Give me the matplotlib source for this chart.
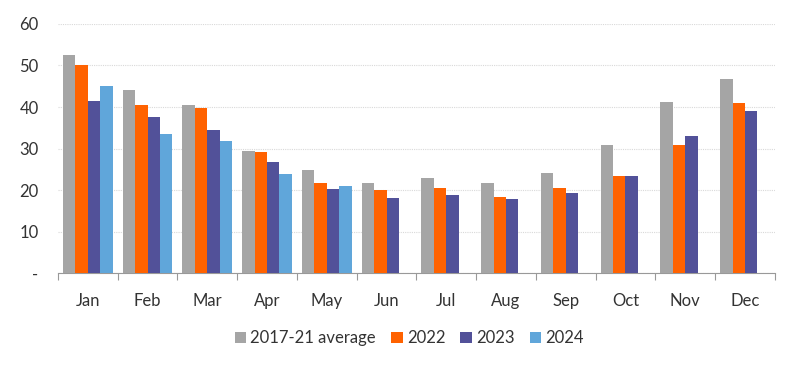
import numpy as np
import matplotlib.pyplot as plt

months = ["Jan", "Feb", "Mar", "Apr", "May", "Jun", "Jul", "Aug", "Sep", "Oct", "Nov", "Dec"]
avg_2017_21 = [52.6, 44.1, 40.4, 29.5, 24.8, 21.6, 22.8, 21.6, 24.0, 30.9, 41.3, 46.7]
y2022 = [50.1, 40.4, 39.8, 29.1, 21.6, 19.9, 20.4, 18.4, 20.4, 23.3, 30.9, 40.9]
y2023 = [41.4, 37.6, 34.4, 26.7, 20.2, 18.2, 18.8, 17.8, 19.2, 23.3, 33.0, 39.0]
y2024 = [45.1, 33.6, 31.9, 23.9, 21.0, np.nan, np.nan, np.nan, np.nan, np.nan, np.nan, np.nan]

series = [
    ("2017-21 average", avg_2017_21, "#A5A5A5"),
    ("2022", y2022, "#FF6200"),
    ("2023", y2023, "#525199"),
    ("2024", y2024, "#60A6DA"),
]

plt.rcParams['font.family'] = ['Lato', 'DejaVu Sans']
txt = "#333333"

fig = plt.figure(figsize=(8, 3.69), dpi=100)
ax = fig.add_axes([0.0725, 0.26, 0.896, 0.675])

x = np.arange(len(months))
w = 0.208
for i, (name, vals, col) in enumerate(series):
    ax.bar(x + (i - 1.5) * w, vals, w, color=col, label=name, zorder=3)

ax.set_xlim(-0.5, 11.5)
ax.set_ylim(0, 60)
ax.set_yticks([0, 10, 20, 30, 40, 50, 60])
ax.set_yticklabels(["-", "10", "20", "30", "40", "50", "60"])
ax.yaxis.grid(True, color="#D9D9D9", linestyle=(0, (1, 1)), linewidth=0.8, zorder=0)
ax.tick_params(axis="y", length=0, labelsize=12, labelcolor=txt, pad=14)

ax.set_xticks(x)
ax.set_xticklabels(months)
ax.tick_params(axis="x", which="major", length=0, labelsize=12, labelcolor=txt, pad=14)
ax.set_xticks(np.arange(-0.5, 12, 1), minor=True)
ax.tick_params(axis="x", which="minor", length=5, color="#999999", width=0.8)

for s in ["top", "right", "left"]:
    ax.spines[s].set_visible(False)
ax.spines["bottom"].set_color("#999999")
ax.spines["bottom"].set_linewidth(0.8)

ax.legend(loc="upper center", bbox_to_anchor=(0.49, -0.17), ncol=4, frameon=False,
          fontsize=12, labelcolor=txt, handlelength=0.7, handleheight=0.7,
          handletextpad=0.25, columnspacing=0.9)

fig.savefig("out.png", dpi=100)
